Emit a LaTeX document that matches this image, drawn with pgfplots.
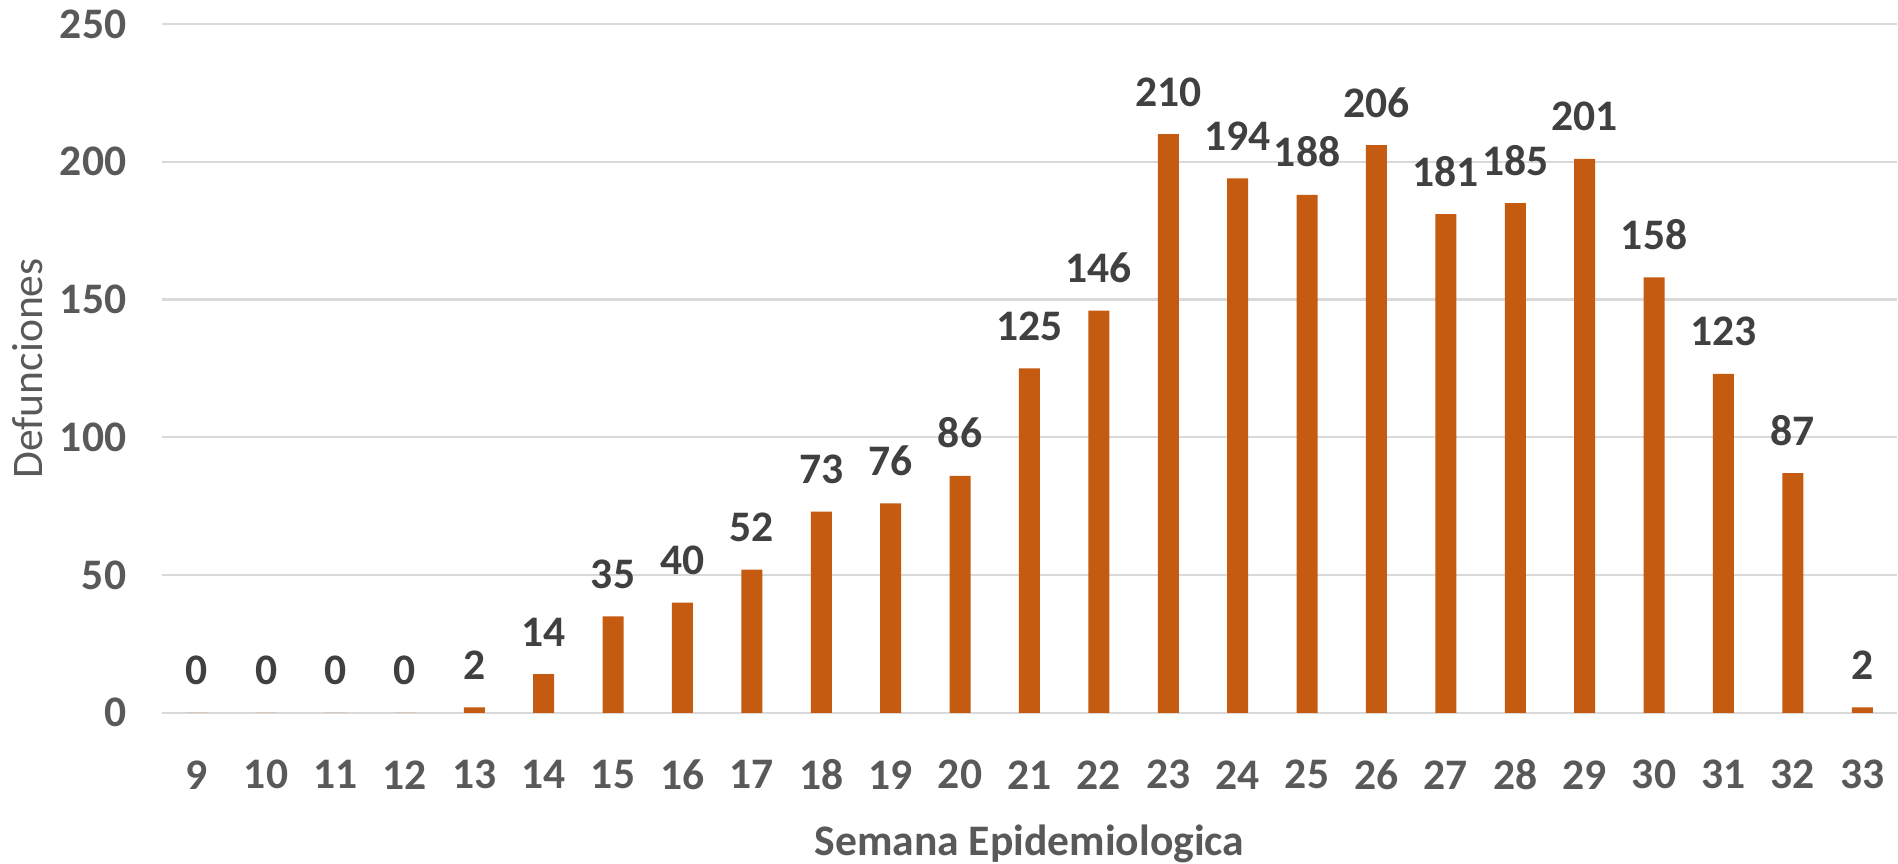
\documentclass[border=0pt]{standalone}
\usepackage{fontspec}
\setmainfont{Carlito}
\usepackage{pgfplots}
\pgfplotsset{compat=1.18}
\definecolor{barorange}{HTML}{C55A11}
\definecolor{lbldark}{HTML}{404040}
\definecolor{tickgray}{HTML}{595959}
\definecolor{gridgray}{HTML}{D9D9D9}
\begin{document}
\begin{tikzpicture}
  \fontsize{10.9}{13}\selectfont
  \useasboundingbox (-40.5pt,-37.8pt) rectangle (434pt,178.2pt);
  \begin{axis}[
      scale only axis,
      width=433.75pt,
      height=172.2pt,
      ybar,
      bar width=5.25pt,
      xmin=8.5, xmax=33.5,
      ymin=0, ymax=250,
      xtick={9,...,33},
      ytick={0,50,100,150,200,250},
      axis line style={draw=none},
      major tick length=0pt,
      ymajorgrids,
      grid style={gridgray, line width=0.6pt},
      /pgf/number format/assume math mode=true,
      every tick label/.append style={font=\fontsize{10.9}{13}\selectfont\bfseries, text=tickgray, inner sep=0pt},
      yticklabel style={anchor=east, xshift=-8.75pt},
      xticklabel style={anchor=center, yshift=-15.5pt},
      xlabel={Semana Epidemiologica},
      ylabel={Defunciones},
      xlabel style={at={(axis description cs:0.5,0)}, anchor=base, yshift=-35.6pt,
        font=\fontsize{10.9}{13}\selectfont\bfseries, text=tickgray, inner sep=0pt},
      ylabel style={at={(axis description cs:-0.0686,0.5)}, anchor=base,
        font=\fontsize{10.9}{13}\selectfont, text=tickgray, inner sep=0pt},
      nodes near coords,
      nodes near coords style={anchor=base, yshift=7pt, inner sep=0pt,
        font=\fontsize{10.9}{13}\selectfont\bfseries, text=lbldark},
    ]
    \addplot[fill=barorange, draw=none] coordinates {
      (9,0) (10,0) (11,0) (12,0) (13,2) (14,14) (15,35) (16,40) (17,52)
      (18,73) (19,76) (20,86) (21,125) (22,146) (23,210) (24,194) (25,188)
      (26,206) (27,181) (28,185) (29,201) (30,158) (31,123) (32,87) (33,2)
    };
  \end{axis}
\end{tikzpicture}
\end{document}
